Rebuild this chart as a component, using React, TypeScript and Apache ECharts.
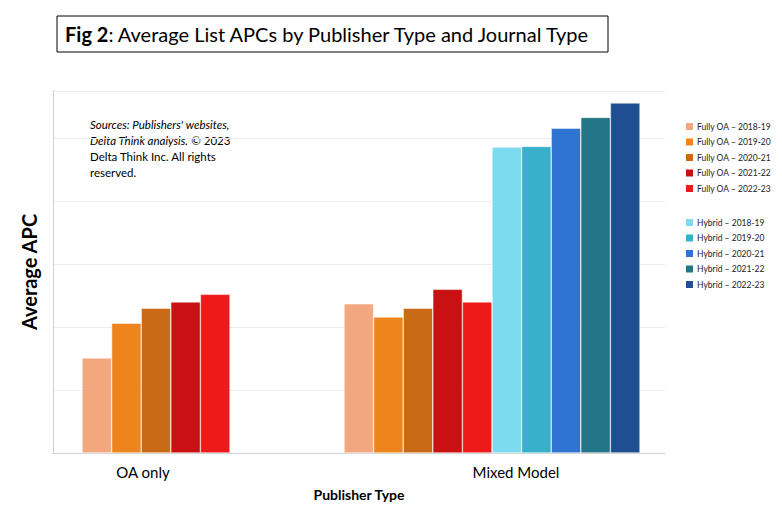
import { useEffect, useRef } from 'react';
import * as echarts from 'echarts';

const categories = ['OA only', 'Mixed Model'];
const seriesNames = [
  'Fully OA – 2018-19', 'Fully OA – 2019-20', 'Fully OA – 2020-21', 'Fully OA – 2021-22', 'Fully OA – 2022-23',
  'Hybrid – 2018-19', 'Hybrid – 2019-20', 'Hybrid – 2020-21', 'Hybrid – 2021-22', 'Hybrid – 2022-23',
];
const colors = [
  '#f2a77f', '#ee841c', '#c96b14', '#c91013', '#ee1a1a',
  '#7ddbf0', '#38b0cc', '#2f74d0', '#237686', '#1f4f91',
];
// relative APC (gridline units)
const oaOnly = [1.51, 2.06, 2.30, 2.40, 2.52];
const mixedModel = [2.37, 2.16, 2.30, 2.60, 2.40, 4.86, 4.87, 5.16, 5.33, 5.56];

export default function App() {
  const ref = useRef<HTMLDivElement>(null);

  useEffect(() => {
    if (!ref.current) return;
    const chart = echarts.init(ref.current, undefined, { renderer: 'svg' });
    const font = 'Lato, "Open Sans", sans-serif';
    const legendText = { fontSize: 8.5, color: '#222', fontFamily: font, padding: [0, 0, 0, -2] };
    const top = 83, bottom = 59;
    const hiddenY = (gi: number) => ({
      type: 'value', gridIndex: gi, min: 0, max: 5.75, interval: 1, show: false,
    });
    const barX = (gi: number, cat: string, pad: number[]) => ({
      type: 'category', gridIndex: gi, data: [cat],
      axisLine: { show: false }, axisTick: { show: false },
      axisLabel: { fontSize: 15, color: '#000', margin: 11, fontFamily: font, padding: pad },
    });
    chart.setOption({
      animation: false,
      textStyle: { fontFamily: font },
      grid: [
        { left: 45, right: 109, top, bottom },
        { left: 74, right: 544, top, bottom },
        { left: 336, right: 134, top, bottom },
      ],
      legend: [
        {
          data: seriesNames.slice(0, 5), orient: 'vertical', left: 671, top: 108,
          itemWidth: 9, itemHeight: 9, itemGap: 4.5, icon: 'rect', textStyle: legendText,
        },
        {
          data: seriesNames.slice(5), orient: 'vertical', left: 671, top: 204,
          itemWidth: 9, itemHeight: 9, itemGap: 4.5, icon: 'rect', textStyle: legendText,
        },
      ],
      xAxis: [
        {
          type: 'category', gridIndex: 0, data: [''],
          name: 'Publisher Type', nameLocation: 'middle', nameGap: 34,
          nameTextStyle: { fontSize: 14, fontWeight: 'bold', color: '#000', fontFamily: font },
          axisLine: { lineStyle: { color: '#d0d0d0' } },
          axisTick: { show: false }, axisLabel: { show: false },
        },
        barX(1, categories[0], [0, 26, 0, 0]),
        barX(2, categories[1], [0, 0, 0, 48]),
      ],
      yAxis: [
        {
          type: 'value', gridIndex: 0, min: 0, max: 5.75, interval: 1,
          name: 'Average APC', nameLocation: 'middle', nameGap: 14,
          nameTextStyle: { fontSize: 20, fontWeight: 'bold', color: '#000', fontFamily: font },
          axisLine: { show: true, lineStyle: { color: '#d0d0d0' } },
          axisLabel: { show: false },
          splitLine: { lineStyle: { color: '#ececec' } },
        },
        hiddenY(1),
        hiddenY(2),
      ],
      graphic: [
        {
          type: 'rect', shape: { x: 49, y: 8, width: 551, height: 36 },
          style: { fill: '#fff', stroke: '#000', lineWidth: 1 },
        },
        {
          type: 'text', x: 57, y: 26,
          style: {
            text: '{b|Fig 2}: Average List APCs by Publisher Type and Journal Type',
            fontSize: 20, fill: '#000', fontFamily: font, verticalAlign: 'middle',
            rich: { b: { fontSize: 20, fontWeight: 'bold', fontFamily: font } },
          },
        },
        {
          type: 'text', x: 82, y: 108,
          style: {
            text: "{i|Sources: Publishers' websites,}\n{i|Delta Think analysis.} © 2023\nDelta Think Inc. All rights\nreserved.",
            fontSize: 11.5, lineHeight: 16, fill: '#000', fontFamily: font,
            backgroundColor: '#fff', padding: [0, 6, 0, 0],
            rich: { i: { fontStyle: 'italic', fontSize: 11.5, fontFamily: font } },
          },
        },
      ],
      series: [
        ...oaOnly.map((v, i) => ({
          name: seriesNames[i], type: 'bar', xAxisIndex: 1, yAxisIndex: 1, data: [v],
          barGap: '0%', barCategoryGap: '0%',
          itemStyle: { color: colors[i], borderColor: '#fff', borderWidth: 0.5 },
        })),
        ...mixedModel.map((v, i) => ({
          name: seriesNames[i], type: 'bar', xAxisIndex: 2, yAxisIndex: 2, data: [v],
          barGap: '0%', barCategoryGap: '0%',
          itemStyle: { color: colors[i], borderColor: '#fff', borderWidth: 0.5 },
        })),
      ],
    });
    return () => chart.dispose();
  }, []);

  return <div ref={ref} style={{ width: 766, height: 504 }} />;
}
